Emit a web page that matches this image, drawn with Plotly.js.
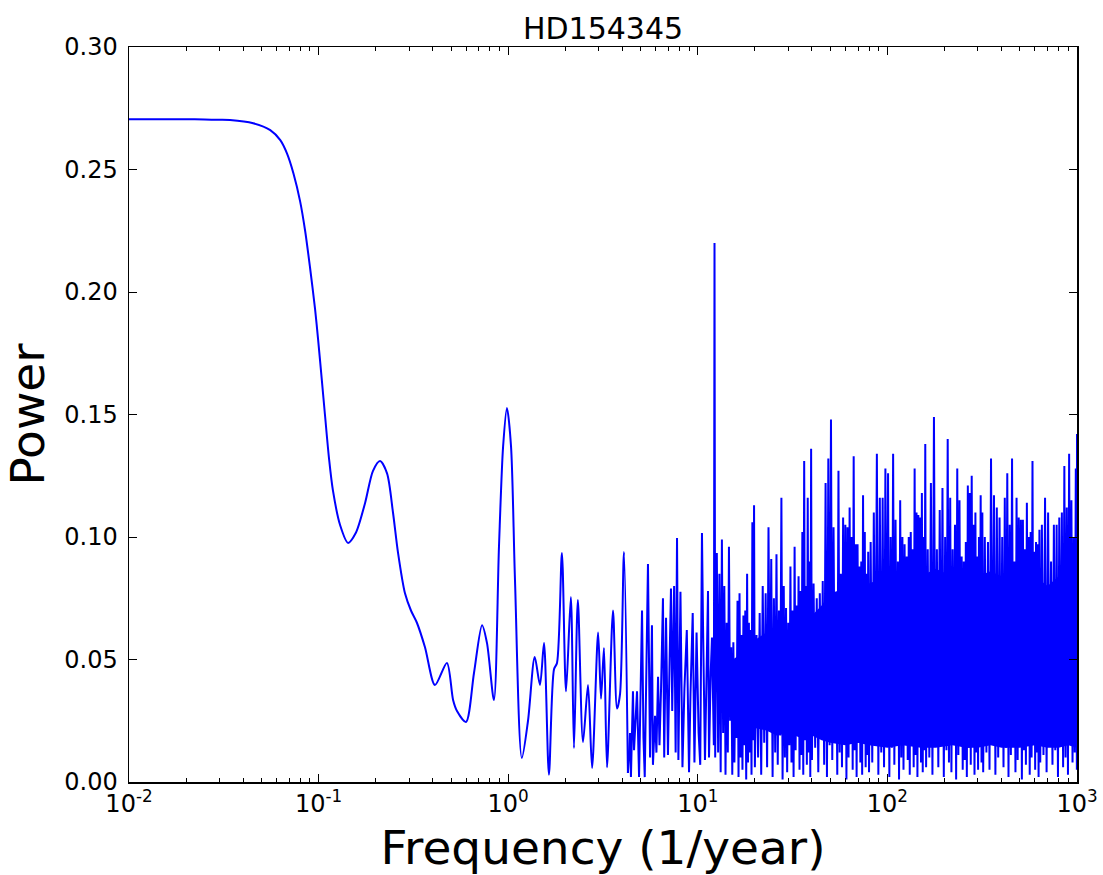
<!DOCTYPE html>
<html><head><meta charset="utf-8">
<script src="https://cdn.plot.ly/plotly-3.0.1.min.js"></script>
<style>html,body{margin:0;padding:0;background:#fff}#chart{width:1103px;height:875px}</style>
</head><body><div id="chart"></div>
<script>
const chartTitle = 'HD154345';
const xAxisTitle = 'Frequency (1/year)';
const yAxisTitle = 'Power';
const xTickVals = [0.01, 0.1, 1, 10, 100, 1000];
const xTickText = ['10<sup>-2</sup>', '10<sup>-1</sup>', '10<sup>0</sup>', '10<sup>1</sup>', '10<sup>2</sup>', '10<sup>3</sup>'];
const yTickVals = [0, 0.05, 0.1, 0.15, 0.2, 0.25, 0.3];
const yTickText = ['0.00', '0.05', '0.10', '0.15', '0.20', '0.25', '0.30'];

// smooth low-frequency part of the periodogram (1/year, power)
const smoothFreq = [0.01,0.015,0.02,0.025,0.03,0.0341,0.0452,0.0556,0.0628,0.0681,0.0737,0.0799,0.0849,0.0901,0.0958,0.0993,0.104,0.108,0.1135,0.119,0.1297,0.143,0.157,0.176,0.1936,0.211,0.2296,0.2468,0.2624,0.2855,0.307,0.330,0.364,0.411,0.475,0.512,0.537,0.599,0.660,0.728,0.773,0.841,0.894,0.940,0.985,1.035,1.086,1.18,1.272,1.38,1.471,1.545,1.64,1.744,1.809,1.92,2.018,2.14,2.223,2.33,2.48,2.636,2.77,2.98,3.087,3.20,3.32,3.57,3.75,3.89,4.08,4.28];
const smoothPower = [0.2705,0.2705,0.2705,0.2704,0.2703,0.2702,0.2689,0.2661,0.2620,0.2566,0.2484,0.2370,0.2250,0.210,0.193,0.181,0.164,0.150,0.132,0.119,0.105,0.0976,0.1016,0.114,0.127,0.131,0.126,0.110,0.0935,0.077,0.070,0.065,0.055,0.0396,0.0486,0.0335,0.029,0.0245,0.0445,0.064,0.0567,0.0335,0.096,0.137,0.1527,0.137,0.0824,0.0098,0.025,0.051,0.0396,0.0567,0.003,0.046,0.0486,0.0935,0.037,0.0755,0.0139,0.0743,0.0163,0.0396,0.0057,0.061,0.034,0.0547,0.006,0.070,0.030,0.036,0.0939,0.0037];

// 4.3 - 12.4 /yr
const lowNoiseFreq = [4.28,4.39,4.44,4.55,4.61,4.78,4.90,5.08,5.17,5.25,5.46,5.60,5.73,5.80,5.95,6.05,6.17,6.28,6.40,6.55,6.65,6.80,6.96,7.10,7.22,7.33,7.50,7.64,7.77,7.90,8.10,8.30,8.50,8.75,8.99,9.15,9.40,9.60,9.85,10.1,10.3,10.52,10.65,10.91,11.1,11.32,11.46,11.7,11.88,12.15,12.25,12.35];
const lowNoisePower = [0.0037,0.020,0.002,0.037,0.013,0.037,0.002,0.070,0.018,0.002,0.089,0.010,0.064,0.007,0.027,0.012,0.043,0.015,0.038,0.075,0.010,0.067,0.011,0.050,0.079,0.029,0.080,0.012,0.0996,0.009,0.0776,0.006,0.038,0.062,0.004,0.036,0.069,0.008,0.061,0.020,0.007,0.1016,0.065,0.009,0.040,0.078,0.010,0.045,0.059,0.015,0.220,0.010];

// 12.6 - 20 /yr
const bandAFreq = [12.6,12.8,13.0,13.2,13.4,13.6,13.8,14.0,14.2,14.4,14.6,14.8,15.0,15.2,15.4,15.6,15.8,16.0,16.2,16.4,16.6,16.8,17.0,17.2,17.4,17.6,17.8,18.0,18.2,18.4,18.6,18.8,19.0,19.2,19.4,19.6,19.8,20.0];
const bandAPower = [0.0935,0.012,0.085,0.004,0.099,0.020,0.080,0.003,0.065,0.012,0.096,0.025,0.055,0.003,0.057,0.008,0.050,0.018,0.074,0.002,0.077,0.010,0.060,0.005,0.068,0.015,0.070,0.001,0.085,0.008,0.065,0.012,0.062,0.003,0.106,0.017,0.113,0.006];

// 20 - 40 /yr
const bandBFreq = [20.4,20.8,21.2,21.6,22.0,22.4,22.8,23.2,23.6,24.0,24.4,24.8,25.2,25.6,26.0,26.4,26.8,27.2,27.6,28.0,28.4,28.8,29.2,29.6,30.0,30.4,30.8,31.2,31.6,32.0,32.4,32.8,33.2,33.6,34.0,34.4,34.8,35.2,35.6,36.0,36.4,36.8,37.2,37.6,38.0,38.4,38.8,39.2,39.6,40.0];
const bandBPower = [0.060,0.010,0.069,0.003,0.080,0.016,0.077,0.006,0.104,0.022,0.091,0.002,0.075,0.012,0.093,0.007,0.070,0.019,0.116,0.001,0.080,0.010,0.071,0.004,0.065,0.015,0.088,0.008,0.070,0.002,0.096,0.013,0.072,0.021,0.084,0.005,0.078,0.011,0.102,0.003,0.131,0.017,0.080,0.007,0.116,0.012,0.090,0.002,0.136,0.009];

// 40 - 80 /yr
const bandCFreq = [40.8,41.6,42.4,43.2,44.0,44.8,45.6,46.4,47.2,48.0,48.8,49.6,50.4,51.2,52.0,52.8,53.6,54.4,55.2,56.0,56.8,57.6,58.4,59.2,60.0,60.8,61.6,62.4,63.2,64.0,64.8,65.6,66.4,67.2,68.0,68.8,69.6,70.4,71.2,72.0,72.8,73.6,74.4,75.2,76.0,76.8,77.6,78.4,79.2,80.0];
const bandCPower = [0.081,0.014,0.075,0.004,0.077,0.020,0.082,0.007,0.122,0.002,0.132,0.015,0.148,0.009,0.104,0.024,0.074,0.003,0.127,0.012,0.085,0.006,0.108,0.018,0.105,0.001,0.104,0.010,0.112,0.021,0.100,0.005,0.133,0.013,0.097,0.002,0.097,0.016,0.088,0.008,0.090,0.003,0.117,0.019,0.102,0.006,0.085,0.011,0.094,0.004];

// 80 - 160 /yr
const bandDFreq = [81.6,83.2,84.8,86.4,88.0,89.6,91.2,92.8,94.4,96.0,97.6,99.2,100.8,102.4,104.0,105.6,107.2,108.8,110.4,112.0,113.6,115.2,116.8,118.4,120.0,121.6,123.2,124.8,126.4,128.0,129.6,131.2,132.8,134.4,136.0,137.6,139.2,140.8,142.4,144.0,145.6,147.2,148.8,150.4,152.0,153.6,155.2,156.8,158.4,160.0];
const bandDPower = [0.098,0.008,0.110,0.019,0.134,0.003,0.116,0.012,0.116,0.006,0.128,0.022,0.126,0.002,0.100,0.014,0.134,0.007,0.107,0.017,0.090,0.001,0.115,0.010,0.100,0.005,0.097,0.020,0.092,0.009,0.100,0.003,0.102,0.015,0.095,0.006,0.128,0.011,0.110,0.002,0.109,0.018,0.108,0.008,0.118,0.004,0.100,0.013,0.138,0.006];

// 160 - 320 /yr
const bandEFreq = [163.2,166.4,169.6,172.8,176.0,179.2,182.4,185.6,188.8,192.0,195.2,198.4,201.6,204.8,208.0,211.2,214.4,217.6,220.8,224.0,227.2,230.4,233.6,236.8,240.0,243.2,246.4,249.6,252.8,256.0,259.2,262.4,265.6,268.8,272.0,275.2,278.4,281.6,284.8,288.0,291.2,294.4,297.6,300.8,304.0,307.2,310.4,313.6,316.8,320.0];
const bandEPower = [0.095,0.010,0.122,0.003,0.149,0.017,0.095,0.006,0.111,0.021,0.120,0.002,0.100,0.013,0.140,0.008,0.116,0.004,0.095,0.016,0.105,0.001,0.128,0.011,0.115,0.019,0.092,0.005,0.090,0.009,0.098,0.002,0.121,0.014,0.118,0.007,0.125,0.020,0.105,0.003,0.110,0.012,0.092,0.005,0.100,0.017,0.117,0.008,0.110,0.004];

// 320 - 640 /yr
const bandFFreq = [326.4,332.8,339.2,345.6,352.0,358.4,364.8,371.2,377.6,384.0,390.4,396.8,403.2,409.6,416.0,422.4,428.8,435.2,441.6,448.0,454.4,460.8,467.2,473.6,480.0,486.4,492.8,499.2,505.6,512.0,518.4,524.8,531.2,537.6,544.0,550.4,556.8,563.2,569.6,576.0,582.4,588.8,595.2,601.6,608.0,614.4,620.8,627.2,633.6,640.0];
const bandFPower = [0.100,0.012,0.098,0.005,0.132,0.018,0.117,0.003,0.112,0.010,0.108,0.021,0.100,0.006,0.116,0.014,0.126,0.002,0.105,0.011,0.132,0.017,0.090,0.004,0.116,0.009,0.108,0.020,0.107,0.001,0.107,0.013,0.095,0.007,0.114,0.016,0.100,0.003,0.102,0.010,0.131,0.019,0.094,0.005,0.098,0.012,0.097,0.002,0.103,0.008];

// 640 - 1000 /yr
const bandGFreq = [652.8,665.6,678.4,691.2,704.0,716.8,729.6,742.4,755.2,768.0,780.8,793.6,806.4,819.2,832.0,844.8,857.6,870.4,883.2,896.0,908.8,921.6,934.4,947.2,960.0,972.8,985.6,998.4,1000];
const bandGPower = [0.105,0.011,0.116,0.004,0.110,0.018,0.090,0.007,0.105,0.013,0.105,0.002,0.108,0.016,0.110,0.006,0.129,0.010,0.112,0.003,0.134,0.020,0.115,0.008,0.100,0.012,0.128,0.005,0.142];

// range that the dense high-frequency oscillation fills solidly
const denseFreq = [12.4,14,16,18,20,23,26,30,35,40,45,50,60,70,80,100,120,150,180,220,260,300,350,400,500,600,700,800,900,1000];
const denseHigh = [0.040,0.048,0.051,0.055,0.058,0.061,0.063,0.062,0.066,0.068,0.072,0.077,0.079,0.077,0.081,0.084,0.082,0.084,0.087,0.084,0.082,0.084,0.086,0.084,0.083,0.084,0.080,0.084,0.085,0.084];
const denseLow = [0.040,0.030,0.027,0.024,0.022,0.021,0.019,0.020,0.018,0.019,0.017,0.016,0.015,0.016,0.015,0.014,0.015,0.014,0.014,0.015,0.014,0.014,0.015,0.014,0.014,0.015,0.014,0.014,0.015,0.014];

const noiseFreq = [].concat(lowNoiseFreq, bandAFreq, bandBFreq, bandCFreq, bandDFreq, bandEFreq, bandFFreq, bandGFreq);
const noisePower = [].concat(lowNoisePower, bandAPower, bandBPower, bandCPower, bandDPower, bandEPower, bandFPower, bandGPower);

const minorTicks = [];
for (let e = -2; e < 3; e++) for (let m = 2; m <= 9; m++) minorTicks.push(m * Math.pow(10, e));

const lineColor = '#0000ff';
const traces = [
  {x: denseFreq.concat(denseFreq.slice().reverse()), y: denseHigh.concat(denseLow.slice().reverse()),
   type: 'scatter', mode: 'lines', fill: 'toself', fillcolor: lineColor,
   line: {color: lineColor, width: 0}, hoverinfo: 'skip'},
  {x: smoothFreq, y: smoothPower, type: 'scatter', mode: 'lines',
   line: {color: lineColor, width: 2, shape: 'spline', smoothing: 0.8, simplify: false}, hoverinfo: 'skip'},
  {x: noiseFreq, y: noisePower, type: 'scatter', mode: 'lines',
   line: {color: lineColor, width: 2, simplify: false}, hoverinfo: 'skip'}
];

const axisCommon = {
  ticks: 'inside', ticklen: 8, tickwidth: 1, tickcolor: '#000',
  showline: true, linecolor: '#000', linewidth: 1.5, mirror: 'allticks',
  showgrid: false, zeroline: false, tickfont: {size: 24, color: '#000'}
};

const layout = {
  width: 1103, height: 875,
  margin: {l: 129, r: 26, t: 47, b: 93},
  paper_bgcolor: '#fff', plot_bgcolor: '#fff',
  font: {family: 'DejaVu Sans, sans-serif', color: '#000', size: 24},
  showlegend: false,
  title: {text: chartTitle, font: {size: 30, color: '#000'}, x: 0.5, xref: 'paper', xanchor: 'center', y: 0.968, yref: 'container', yanchor: 'middle'},
  xaxis: Object.assign({}, axisCommon, {
    type: 'log', range: [-2, 3], tickmode: 'array', tickvals: xTickVals, ticktext: xTickText,
    minor: {tickmode: 'array', tickvals: minorTicks, ticks: 'inside', ticklen: 4, tickwidth: 1, tickcolor: '#000', showgrid: false},
    title: {text: xAxisTitle, font: {size: 47, color: '#000'}, standoff: 18}
  }),
  yaxis: Object.assign({}, axisCommon, {
    range: [0, 0.3], tickmode: 'array', tickvals: yTickVals, ticktext: yTickText, ticklabelstandoff: 5,
    title: {text: yAxisTitle, font: {size: 47, color: '#000'}, standoff: 8}
  })
};

Plotly.newPlot('chart', traces, layout, {displayModeBar: false, staticPlot: true});
</script>
</body></html>
